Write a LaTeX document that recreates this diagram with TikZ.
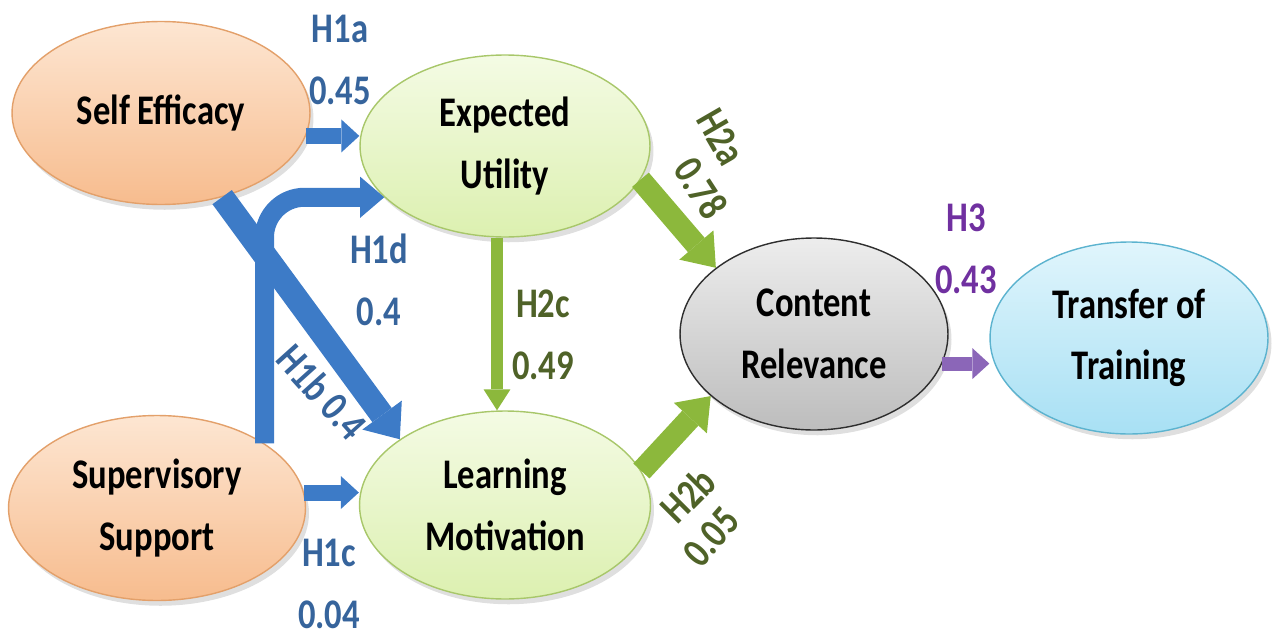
\documentclass[tikz,border=0pt]{standalone}
\usepackage{fontspec}
\setmainfont{Carlito}[FakeStretch=0.82]
\usetikzlibrary{shapes.geometric,arrows.meta,shadows}
\definecolor{orA}{HTML}{FDE6D2}
\definecolor{orB}{HTML}{F7BC8E}
\definecolor{orD}{HTML}{E3A06A}
\definecolor{grA}{HTML}{F4FBE4}
\definecolor{grB}{HTML}{DCF0B0}
\definecolor{grD}{HTML}{A8C76A}
\definecolor{gyA}{HTML}{EDEDED}
\definecolor{gyB}{HTML}{BDBDBD}
\definecolor{gyD}{HTML}{2E2E2E}
\definecolor{bfA}{HTML}{E0F5FC}
\definecolor{bfB}{HTML}{A8E0F4}
\definecolor{bfD}{HTML}{5CB3CF}
\definecolor{arBlue}{HTML}{3D7BC7}
\definecolor{arGreen}{HTML}{8CB83C}
\definecolor{arPurple}{HTML}{8B66B8}
\definecolor{txBlue}{HTML}{36649C}
\definecolor{txGreen}{HTML}{4F6228}
\definecolor{txPurple}{HTML}{7030A0}
\begin{document}
\begin{tikzpicture}[x=0.02cm,y=-0.02cm,
  every node/.style={font=\fontsize{24}{35}\selectfont\bfseries, align=center, inner sep=0pt},
  construct/.style={ellipse, line width=0.8pt, drop shadow={opacity=0.25,shadow xshift=2pt,shadow yshift=-3pt}},
  orangeE/.style={construct, top color=orA, bottom color=orB, draw=orD},
  greenE/.style={construct, top color=grA, bottom color=grB, draw=grD},
  grayE/.style={construct, top color=gyA, bottom color=gyB, draw=gyD},
  cyanE/.style={construct, top color=bfA, bottom color=bfB, draw=bfD},
  blk/.style n args={4}{draw=#1, line width=#2, -{Triangle[width=#3, length=#4, line width=0pt]}},
  lblBlue/.style={text=txBlue},
  lblGreen/.style={text=txGreen},
  lblPurple/.style={text=txPurple}]
\useasboundingbox (0,0) rectangle (1274,639);

% constructs
\node[orangeE, minimum width=5.96cm, minimum height=3.66cm] (se) at (161,113) {Self Efficacy};
\node[orangeE, minimum width=5.94cm, minimum height=3.70cm] (ss) at (157,508) {Supervisory\\Support};
\node[greenE, minimum width=5.80cm, minimum height=3.64cm] (eu) at (505,146) {Expected\\Utility};
\node[greenE, minimum width=5.82cm, minimum height=3.76cm] (lm) at (505,505) {Learning\\Motivation};
\node[grayE, minimum width=5.36cm, minimum height=3.84cm] (cr) at (814,334) {Content\\Relevance};
\node[cyanE, minimum width=5.56cm, minimum height=3.84cm] (tt) at (1129,338) {Transfer of\\Training};

% connectors
\draw[blk={arBlue}{0.32cm}{0.66cm}{0.36cm}] (se.-9) -- (se.-9 -| eu.west);
\draw[blk={arBlue}{0.32cm}{0.66cm}{0.36cm}] (ss.6) -- (ss.6 -| lm.west);
\draw[blk={arBlue}{0.38cm}{0.82cm}{0.48cm}, rounded corners=0.8cm] (ss.31) |- (eu.203);
\draw[blk={arBlue}{0.48cm}{0.98cm}{0.6cm}] (se.-54) -- (lm.148);
\draw[blk={arGreen}{0.24cm}{0.54cm}{0.42cm}] (eu.265) -- (eu.265 |- lm.north);
\draw[blk={arGreen}{0.44cm}{0.9cm}{0.6cm}] (eu.-14) -- (cr.146);
\draw[blk={arGreen}{0.44cm}{0.9cm}{0.6cm}] (lm.14) -- (cr.211);
\draw[blk={arPurple}{0.28cm}{0.62cm}{0.34cm}] (cr.-13) -- (cr.-13 -| tt.west);

% labels
\node[lblBlue] (l1a) at (340,60) {H1a\\0.45};
\node[lblBlue] (l1d) at (379,280) {H1d\\0.4};
\node[lblBlue, rotate=-48] (l1b) at (322,392) {H1b 0.4};
\node[lblBlue] (l1c) at (329,584) {H1c\\0.04};
\node[lblGreen] (l2c) at (543,335) {H2c\\0.49};
\node[lblGreen, rotate=-60] (l2a) at (721,137) {H2a};
\node[lblGreen, rotate=-57] (v2a) at (701,188) {0.78};
\node[lblGreen, rotate=45] (l2b) at (688,495) {H2b};
\node[lblGreen, rotate=49] (v2b) at (711,537) {0.05};
\node[lblPurple] (l3) at (966,249) {H3\\0.43};
\end{tikzpicture}
\end{document}
